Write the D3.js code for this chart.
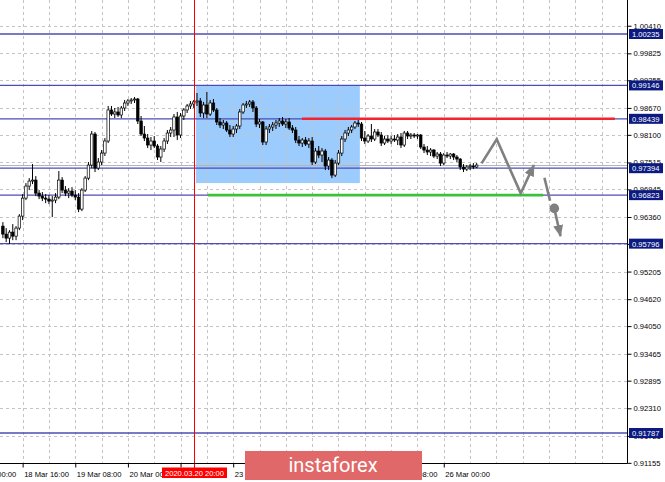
<!DOCTYPE html>
<html><head><meta charset="utf-8">
<script src="https://cdn.jsdelivr.net/npm/d3@7"></script>
<style>body{margin:0;background:#fff;} svg{display:block;}</style>
</head><body>
<svg id="chart" width="665" height="482"></svg>
<script>
// bar slot of first candle (slot 0 = 18 Mar 00:00, H1 bars, weekend removed)
const firstSlot = 10;
const opens = [
0.96167,0.95998,0.95913,0.96040,0.95955,0.96125,0.96379,0.96760,0.97015,0.97121,
0.97142,0.96866,0.96803,0.96760,0.96739,0.96697,0.96718,0.96782,0.97142,0.96930,
0.96866,0.96909,0.96824,0.96782,0.96527,0.96930,0.97184,0.97460,0.98117,0.97396,
0.97524,0.97714,0.97969,0.98626,0.98541,0.98584,0.98520,0.98668,0.98774,0.98817,
0.98838,0.98859,0.98393,0.98117,0.98032,0.97884,0.97969,0.97863,0.97630,0.97799,
0.97969,0.98138,0.98202,0.98478,0.98096,0.98499,0.98626,0.98711,0.98753,0.98796,
0.98817,0.98562,0.98732,0.98541,0.98774,0.98626,0.98372,0.98308,0.98350,0.98202,
0.98117,0.98223,0.98287,0.98584,0.98732,0.98753,0.98796,0.98668,0.98329,0.98372,
0.97948,0.98223,0.98266,0.98308,0.98350,0.98393,0.98329,0.98372,0.98244,0.98202,
0.97990,0.97926,0.97990,0.97905,0.97969,0.97524,0.97757,0.97672,0.97757,0.97439,
0.97566,0.97248,0.97502,0.97714,0.98011,0.98138,0.98202,0.98266,0.98350,0.98329,
0.98032,0.97969,0.98075,0.98011,0.98160,0.98096,0.97926,0.98011,0.97969,0.98011,
0.97990,0.98054,0.97884,0.98138,0.98075,0.98096,0.98075,0.98096,0.97842,0.97778,
0.97736,0.97778,0.97651,0.97693,0.97502,0.97672,0.97651,0.97693,0.97630,0.97587,
0.97418,0.97375,0.97418,0.97439,0.97418];
const highs = [
0.96252,0.96125,0.96082,0.96210,0.96167,0.96421,0.96845,0.97078,0.97184,0.97481,
0.97227,0.96930,0.96888,0.96845,0.96824,0.96803,0.96866,0.97333,0.97206,0.97015,
0.96972,0.96994,0.96930,0.96866,0.96972,0.97227,0.97524,0.98181,0.98160,0.97608,
0.97778,0.98032,0.98711,0.98711,0.98668,0.98690,0.98711,0.98838,0.98859,0.98880,
0.98902,0.98880,0.98499,0.98287,0.98117,0.98054,0.98075,0.97905,0.97863,0.98032,
0.98202,0.98266,0.98541,0.98584,0.98562,0.98668,0.98753,0.98817,0.98838,0.98986,
0.98880,0.98796,0.99008,0.98838,0.98859,0.98668,0.98456,0.98414,0.98393,0.98308,
0.98287,0.98329,0.98647,0.98774,0.98817,0.98838,0.98838,0.98711,0.98435,0.98393,
0.98287,0.98329,0.98372,0.98414,0.98456,0.98478,0.98435,0.98456,0.98308,0.98266,
0.98075,0.98032,0.98054,0.98032,0.98054,0.97820,0.97863,0.97820,0.97799,0.97630,
0.97608,0.97566,0.97778,0.98075,0.98202,0.98266,0.98308,0.98393,0.98414,0.98372,
0.98181,0.98117,0.98329,0.98223,0.98223,0.98160,0.98075,0.98096,0.98075,0.98096,
0.98117,0.98138,0.98181,0.98181,0.98138,0.98138,0.98117,0.98117,0.97905,0.97863,
0.97820,0.97799,0.97736,0.97736,0.97714,0.97736,0.97714,0.97714,0.97672,0.97608,
0.97481,0.97460,0.97481,0.97502,0.97502];
const lows = [
0.95913,0.95828,0.95786,0.95870,0.95870,0.96082,0.96294,0.96718,0.96930,0.97057,
0.96803,0.96739,0.96697,0.96654,0.96633,0.96358,0.96654,0.96739,0.96866,0.96803,
0.96760,0.96782,0.96718,0.96464,0.96485,0.96888,0.97142,0.97396,0.97312,0.97354,
0.97460,0.97651,0.97926,0.98499,0.98456,0.98478,0.98456,0.98605,0.98711,0.98753,
0.98774,0.98329,0.98075,0.97969,0.97820,0.97778,0.97820,0.97566,0.97524,0.97736,
0.97905,0.98054,0.98054,0.97990,0.98032,0.98414,0.98562,0.98647,0.98668,0.98711,
0.98478,0.98456,0.98456,0.98499,0.98584,0.98308,0.98244,0.98223,0.98160,0.98054,
0.98054,0.98138,0.98223,0.98541,0.98668,0.98690,0.98584,0.98266,0.98244,0.97884,
0.97884,0.98138,0.98181,0.98223,0.98266,0.98287,0.98244,0.98202,0.98138,0.97926,
0.97863,0.97842,0.97863,0.97820,0.97460,0.97481,0.97608,0.97524,0.97354,0.97354,
0.97184,0.97206,0.97460,0.97651,0.97948,0.98075,0.98138,0.98223,0.98266,0.97969,
0.97905,0.97926,0.97948,0.97969,0.98054,0.97863,0.97884,0.97926,0.97905,0.97948,
0.97884,0.97820,0.97842,0.98011,0.98011,0.98032,0.98011,0.97799,0.97714,0.97672,
0.97651,0.97608,0.97587,0.97439,0.97460,0.97608,0.97587,0.97566,0.97524,0.97354,
0.97312,0.97333,0.97354,0.97375,0.97396];
const closes = [
0.95998,0.95913,0.96040,0.95955,0.96125,0.96379,0.96760,0.97015,0.97121,0.97142,
0.96866,0.96803,0.96760,0.96739,0.96697,0.96718,0.96782,0.97142,0.96930,0.96866,
0.96909,0.96824,0.96782,0.96527,0.96930,0.97184,0.97460,0.98117,0.97396,0.97524,
0.97714,0.97969,0.98626,0.98541,0.98584,0.98520,0.98668,0.98774,0.98817,0.98838,
0.98859,0.98393,0.98117,0.98032,0.97884,0.97969,0.97863,0.97630,0.97799,0.97969,
0.98138,0.98202,0.98478,0.98096,0.98499,0.98626,0.98711,0.98753,0.98796,0.98817,
0.98562,0.98732,0.98541,0.98774,0.98626,0.98372,0.98308,0.98350,0.98202,0.98117,
0.98223,0.98287,0.98584,0.98732,0.98753,0.98796,0.98668,0.98329,0.98372,0.97948,
0.98223,0.98266,0.98308,0.98350,0.98393,0.98329,0.98372,0.98244,0.98202,0.97990,
0.97926,0.97990,0.97905,0.97969,0.97524,0.97757,0.97672,0.97757,0.97439,0.97566,
0.97248,0.97502,0.97714,0.98011,0.98138,0.98202,0.98266,0.98350,0.98329,0.98032,
0.97969,0.98075,0.98011,0.98160,0.98096,0.97926,0.98011,0.97969,0.98011,0.97990,
0.98054,0.97884,0.98138,0.98075,0.98096,0.98075,0.98096,0.97842,0.97778,0.97736,
0.97778,0.97651,0.97693,0.97502,0.97672,0.97651,0.97693,0.97630,0.97587,0.97418,
0.97375,0.97418,0.97439,0.97418,0.97460];

const priceTicks = [1.00410,0.99825,0.99255,0.98670,0.98100,0.97515,0.96945,0.96360,0.95790,0.95205,0.94620,0.94050,0.93465,0.92895,0.92310,0.91725,0.91155];
const timeTickSlots = [0,16,32,48,64,80,96,112,128,144];
const timeTickLabels = ["18 Mar 00:00","18 Mar 16:00","19 Mar 08:00","20 Mar 00:00","20 Mar 16:00","23 Mar 08:00","24 Mar 00:00","24 Mar 16:00","25 Mar 08:00","26 Mar 00:00"];
const levels = [1.00235,0.99146,0.98439,0.97394,0.96823,0.95796,0.91787];
const levelLabels = ["1.00235","0.99146","0.98439","0.97394","0.96823","0.95796","0.91787"];

// analysis objects (slot, price)
const zoneBox = {slot0: 68.7, slot1: 118.5, top: 0.99146, bottom: 0.97078};
const resistance = {slot0: 100.9, slot1: 196, price: 0.98439};
const support = {slot0: 72.3, slot1: 174.2, price: 0.96823};
const crossSlot = 68;
const crossLabel = "2020.03.20 20:00";
const forecastA = [[155.5,0.97496],[160.1,0.98005],[167.4,0.96860],[171.4,0.97460]];
const forecastB = [[174.6,0.97191],[176.3,0.96703]];
const forecastDot = [177.6,0.96542];
const forecastC = [[177.6,0.96542],[179.5,0.95955]];

const svg = d3.select("#chart");
const W = 665, H = 482, axisX = 627, axisY = 463;
const x = d3.scaleLinear().domain([0,200]).range([-30,628]);
const y = d3.scaleLinear().domain([0.91155,1.00410]).range([462.85,25.73]);

const bars = closes.map((c,i)=>({slot:firstSlot+i,o:opens[i],h:highs[i],l:lows[i],c:c}));

const defs = svg.append("defs");
defs.append("clipPath").attr("id","plot").append("rect").attr("x",0).attr("y",0).attr("width",axisX).attr("height",axisY);
defs.append("marker").attr("id","ah").attr("viewBox","0 0 12 10").attr("refX",11).attr("refY",5)
  .attr("markerWidth",12).attr("markerHeight",10).attr("markerUnits","userSpaceOnUse").attr("orient","auto")
  .append("path").attr("d","M0,0 L12,5 L0,10 Z").attr("fill","#808080");

const plot = svg.append("g").attr("clip-path","url(#plot)");

// zone rectangle (background)
plot.append("rect")
  .attr("x",x(zoneBox.slot0)).attr("width",x(zoneBox.slot1)-x(zoneBox.slot0))
  .attr("y",y(zoneBox.top)).attr("height",y(zoneBox.bottom)-y(zoneBox.top))
  .attr("fill","#9ccbfd");

// grid
const gridSlots = d3.range(0,200,8);
plot.append("g").selectAll("line").data(gridSlots).join("line")
  .attr("x1",d=>Math.round(x(d))+0.5).attr("x2",d=>Math.round(x(d))+0.5)
  .attr("y1",0).attr("y2",axisY)
  .attr("stroke","#c4c4c4").attr("stroke-width",1).attr("stroke-dasharray","3,3");
plot.append("g").selectAll("line").data(priceTicks).join("line")
  .attr("x1",0).attr("x2",axisX)
  .attr("y1",d=>Math.round(y(d))+0.5).attr("y2",d=>Math.round(y(d))+0.5)
  .attr("stroke","#c4c4c4").attr("stroke-width",1).attr("stroke-dasharray","3,3");

// level lines
plot.append("g").selectAll("line").data(levels).join("line")
  .attr("x1",0).attr("x2",axisX).attr("y1",d=>y(d)).attr("y2",d=>y(d))
  .attr("stroke","#4c4cb6").attr("stroke-width",1.3);

// bid line
plot.append("line").attr("x1",0).attr("x2",axisX)
  .attr("y1",Math.round(y(closes[closes.length-1]))+0.5).attr("y2",Math.round(y(closes[closes.length-1]))+0.5)
  .attr("stroke","#b4b4b4").attr("stroke-width",1);

// red crosshair vertical
svg.append("line").attr("x1",Math.round(x(crossSlot))+0.5).attr("x2",Math.round(x(crossSlot))+0.5)
  .attr("y1",0).attr("y2",468).attr("stroke","#ff0000").attr("stroke-width",1);

// candles
const cg = plot.append("g");
cg.selectAll("line").data(bars).join("line")
  .attr("x1",d=>x(d.slot)).attr("x2",d=>x(d.slot))
  .attr("y1",d=>y(d.h)).attr("y2",d=>y(d.l))
  .attr("stroke","#000").attr("stroke-width",1);
const bw = 2.5;
cg.selectAll("rect").data(bars).join("rect")
  .attr("x",d=>x(d.slot)-bw/2).attr("width",bw)
  .attr("y",d=>y(Math.max(d.o,d.c))).attr("height",d=>Math.max(0.8,Math.abs(y(d.o)-y(d.c))))
  .attr("fill",d=>d.c>=d.o?"#fff":"#000").attr("stroke","#000").attr("stroke-width",0.7);

// resistance / support
plot.append("line").attr("x1",x(resistance.slot0)).attr("x2",x(resistance.slot1))
  .attr("y1",y(resistance.price)).attr("y2",y(resistance.price))
  .attr("stroke","#f5232d").attr("stroke-width",2.6);
plot.append("line").attr("x1",x(support.slot0)).attr("x2",x(support.slot1))
  .attr("y1",y(support.price)).attr("y2",y(support.price))
  .attr("stroke","#3cc13c").attr("stroke-width",2.6);

// forecast arrows
const ln = d3.line().x(d=>x(d[0])).y(d=>y(d[1]));
const fg = svg.append("g").attr("fill","none").attr("stroke","#808080").attr("stroke-width",2.6).attr("stroke-linejoin","miter");
fg.append("path").attr("d",ln(forecastA)).attr("marker-end","url(#ah)");
fg.append("path").attr("d",ln(forecastB));
fg.append("path").attr("d",ln(forecastC)).attr("marker-end","url(#ah)");
svg.append("circle").attr("cx",x(forecastDot[0])).attr("cy",y(forecastDot[1])).attr("r",4.8).attr("fill","#808080");

// axes lines
svg.append("line").attr("x1",axisX+0.5).attr("x2",axisX+0.5).attr("y1",0).attr("y2",axisY+0.5).attr("stroke","#000");
svg.append("line").attr("x1",0).attr("x2",axisX+0.5).attr("y1",axisY+0.5).attr("y2",axisY+0.5).attr("stroke","#000");

const FONT = "Liberation Sans, Arial, sans-serif";
// y axis
const yAxis = d3.axisRight(y).tickValues(priceTicks).tickFormat(d3.format(".5f")).tickSize(4).tickPadding(2);
const ya = svg.append("g").attr("transform",`translate(${axisX+0.5},0)`).call(yAxis);
ya.select(".domain").remove();
ya.selectAll("text").attr("font-family",FONT).attr("font-size","7.6px").attr("fill","#000");
ya.selectAll(".tick line").attr("stroke","#000");

// x axis
const xAxis = d3.axisBottom(x).tickValues(timeTickSlots).tickFormat((d,i)=>timeTickLabels[i]).tickSize(4).tickPadding(4);
const xa = svg.append("g").attr("transform",`translate(0,${axisY+0.5})`).call(xAxis);
xa.select(".domain").remove();
xa.selectAll("text").attr("text-anchor","start").attr("dx","1").attr("font-family",FONT).attr("font-size","7.6px").attr("fill","#000");
xa.selectAll(".tick line").attr("stroke","#000");

// level price boxes
const lb = svg.append("g").selectAll("g").data(levels).join("g")
  .attr("transform",(d)=>`translate(629,${y(d)})`);
lb.append("rect").attr("x",0).attr("y",-5).attr("width",34).attr("height",10).attr("fill","#0b1a80");
lb.append("text").attr("x",3).attr("y",3).text((d,i)=>levelLabels[i])
  .attr("font-family",FONT).attr("font-size","7.6px").attr("fill","#fff");

// crosshair time label
const cx = Math.round(x(crossSlot))+0.5;
svg.append("rect").attr("x",cx-32.5).attr("y",467.5).attr("width",65).attr("height",10.5).attr("fill","#ff0000");
svg.append("text").attr("x",cx).attr("y",475.8).attr("text-anchor","middle").text(crossLabel)
  .attr("font-family",FONT).attr("font-size","7.6px").attr("fill","#fff");

// watermark
svg.append("rect").attr("x",245).attr("y",451).attr("width",177).attr("height",29).attr("fill","#e06868");
svg.append("text").attr("x",333).attr("y",472).attr("text-anchor","middle").text("instaforex")
  .attr("font-family","Roboto, sans-serif").attr("font-size","20px").attr("fill","#fff");
</script>
</body></html>
